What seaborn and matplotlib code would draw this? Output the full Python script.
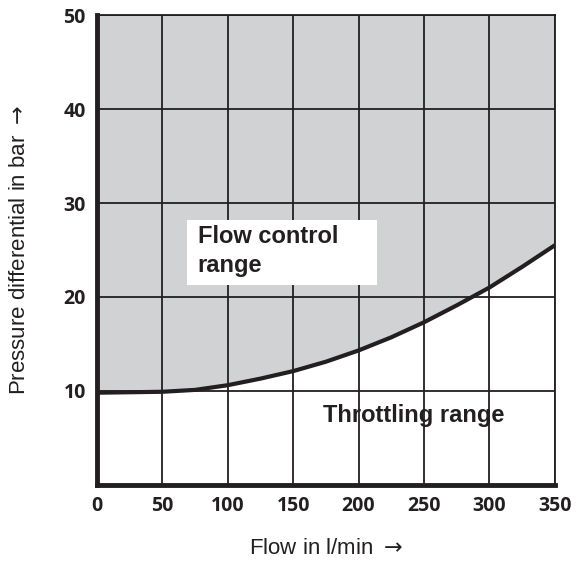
import pandas as pd
import matplotlib.pyplot as plt
from matplotlib.patches import Rectangle
import seaborn as sns

# values
flow = [0, 25, 50, 75, 100, 125, 150, 175, 200, 225, 250, 275, 300, 325, 350]
pressure = [9.8, 9.85, 9.9, 10.1, 10.6, 11.3, 12.1, 13.1, 14.3, 15.7, 17.3, 19.1, 21.0, 23.2, 25.5]
x_ticks = [0, 50, 100, 150, 200, 250, 300, 350]
y_ticks = [10, 20, 30, 40, 50]

df = pd.DataFrame({'flow': flow, 'pressure': pressure})

sns.set_style("white")
plt.rcParams['font.family'] = ['Liberation Sans', 'DejaVu Sans']

fig = plt.figure(figsize=(5.84, 5.63), dpi=100)
ax = fig.add_axes([0.166, 0.139, 0.784, 0.834])

dark = '#231f20'

# shaded flow control range above the curve
ax.fill_between(df['flow'], df['pressure'], 50, color='#d1d2d4', zorder=0, linewidth=0)

# grid
for xv in x_ticks[1:]:
    ax.axvline(xv, color=dark, lw=1.3, zorder=1)
for yv in y_ticks:
    ax.axhline(yv, color=dark, lw=1.3, zorder=1)

sns.lineplot(data=df, x='flow', y='pressure', ax=ax, color=dark, lw=3, zorder=3)

ax.set_xlim(0, 350)
ax.set_ylim(0, 50)
ax.set_xticks(x_ticks)
ax.set_yticks(y_ticks)
ax.tick_params(length=0, labelsize=14, pad=8, colors=dark)
for lab in ax.get_xticklabels() + ax.get_yticklabels():
    lab.set_fontfamily(['Open Sans', 'DejaVu Sans'])
    lab.set_fontweight('bold')

for side in ['top', 'right']:
    ax.spines[side].set_linewidth(1.3)
    ax.spines[side].set_color(dark)
for side in ['left', 'bottom']:
    ax.spines[side].set_linewidth(3.5)
    ax.spines[side].set_color(dark)
    ax.spines[side].set_zorder(4)

ax.set_xlabel('Flow in l/min $\\rightarrow$', fontsize=16, color=dark, labelpad=16)
ax.set_ylabel('Pressure differential in bar $\\rightarrow$', fontsize=16, color=dark, labelpad=24)

# white label box
ax.add_patch(Rectangle((69, 21.3), 145, 6.9, facecolor='white', edgecolor='none', zorder=4))
ax.text(77, 24.9, 'Flow control\nrange', fontsize=17, fontweight='bold', color=dark,
        ha='left', va='center', linespacing=1.3, zorder=5)
ax.text(173, 7.4, 'Throttling range', fontsize=17, fontweight='bold', color=dark,
        ha='left', va='center', zorder=5)

plt.savefig('out.png', dpi=100)
